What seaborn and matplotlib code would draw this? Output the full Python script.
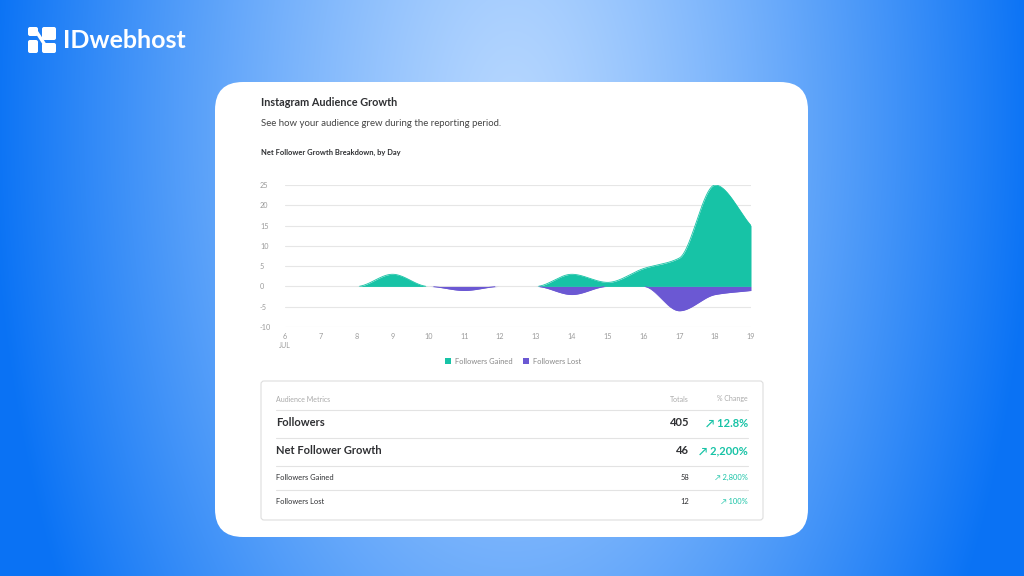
import numpy as np
import pandas as pd
import seaborn as sns
import matplotlib.pyplot as plt
from matplotlib.patches import FancyBboxPatch, Patch, Polygon

# Daily follower data (July 6 - 19)
days = [6, 7, 8, 9, 10, 11, 12, 13, 14, 15, 16, 17, 18, 19]
followers_gained = [0, 0, 0, 3, 0, 0, 0, 0, 3, 1, 4.4, 7, 25, 15]
followers_lost = [0, 0, 0, 0, 0, -1, 0, 0, -2, 0, 0, -6, -2, -1]
y_ticks = [-10, -5, 0, 5, 10, 15, 20, 25]

# Audience metrics table
metric_names = ["Followers", "Net Follower Growth", "Followers Gained", "Followers Lost"]
metric_totals = ["405", "46", "58", "12"]
metric_changes = ["12.8%", "2,200%", "2,800%", "100%"]

TEAL = "#17c3a6"
PURPLE = "#6b58d3"
DARK = "#2f3033"
GRAY = "#9a9a9a"
FONT = ["Lato", "DejaVu Sans"]


def pchip(x, y, xs):
    # monotone cubic curve, only used for the smooth look of the area edges
    x = np.asarray(x, float)
    y = np.asarray(y, float)
    h = np.diff(x)
    delta = np.diff(y) / h
    n = len(x)
    d = np.zeros(n)
    for k in range(1, n - 1):
        if delta[k - 1] * delta[k] > 0:
            w1 = 2 * h[k] + h[k - 1]
            w2 = h[k] + 2 * h[k - 1]
            d[k] = (w1 + w2) / (w1 / delta[k - 1] + w2 / delta[k])
    d[0] = delta[0]
    d[-1] = delta[-1]
    idx = np.clip(np.searchsorted(x, xs) - 1, 0, n - 2)
    t = (xs - x[idx]) / h[idx]
    h00 = 2 * t**3 - 3 * t**2 + 1
    h10 = t**3 - 2 * t**2 + t
    h01 = -2 * t**3 + 3 * t**2
    h11 = t**3 - t**2
    return h00 * y[idx] + h10 * h[idx] * d[idx] + h01 * y[idx + 1] + h11 * h[idx] * d[idx + 1]


sns.set_theme(style="white")
plt.rcParams["font.family"] = FONT

fig = plt.figure(figsize=(10.24, 5.76), dpi=100)

# background with gradient, card and texts in pixel coordinates
bg = fig.add_axes([0, 0, 1, 1])
bg.set_xlim(0, 1024)
bg.set_ylim(576, 0)
bg.axis("off")

gx, gy = np.meshgrid(np.arange(1024), np.arange(576))
r = np.sqrt((gx - 512) ** 2 + ((gy - 120) * 0.55) ** 2)
t = np.clip(r / 520, 0, 1) ** 1.25
light = np.array([0.71, 0.84, 1.0])
dark = np.array([0.04, 0.45, 0.96])
img = light[None, None, :] * (1 - t[..., None]) + dark[None, None, :] * t[..., None]
bg.imshow(img, extent=(0, 1024, 576, 0), aspect="auto", zorder=0)

# logo
for (x0, y0, w, h) in [(28, 27, 10, 9), (42, 27, 14, 13), (28, 40, 10, 13), (42, 43, 14, 10)]:
    bg.add_patch(FancyBboxPatch((x0, y0), w, h, boxstyle="round,pad=0,rounding_size=2",
                                fc="white", ec="none", zorder=2))
bg.add_patch(Polygon([(34, 31), (38, 31), (47, 45), (43, 45)], closed=True, fc="white", ec="none", zorder=2))
bg.text(63, 41, "IDwebhost", color="white", fontsize=18, fontweight="bold", va="center", ha="left", zorder=2)

# white card
bg.add_patch(FancyBboxPatch((215, 82), 593, 455, boxstyle="round,pad=0,rounding_size=28",
                            fc="white", ec="none", zorder=1))

bg.text(261, 103, "Instagram Audience Growth", fontsize=7.8, fontweight="bold", color=DARK, va="center", zorder=3)
bg.text(261, 124, "See how your audience grew during the reporting period.", fontsize=6.9,
        color="#444444", va="center", zorder=3)
bg.text(261, 152, "Net Follower Growth Breakdown, by Day", fontsize=5.4, fontweight="bold",
        color=DARK, va="center", zorder=3)
bg.text(279, 345, "JUL", fontsize=5, color=GRAY, va="center", zorder=3)

# metrics table
bg.add_patch(FancyBboxPatch((261, 381), 502, 139, boxstyle="round,pad=0,rounding_size=3",
                            fc="white", ec="#dedede", lw=0.8, zorder=2))
bg.text(276, 399, "Audience Metrics", fontsize=5, color="#aaaaaa", va="center", zorder=3)
bg.text(689, 399, "Totals", fontsize=5, color="#aaaaaa", va="center", ha="right", zorder=3)
bg.text(748, 399, "% Change", fontsize=5, color="#aaaaaa", va="center", ha="right", zorder=3)
for yl in [410, 438, 466, 490]:
    bg.plot([276, 748], [yl, yl], color="#e3e3e3", lw=0.8, zorder=3)
row_y = [423, 451, 477, 501]
for i, (name, tot, chg) in enumerate(zip(metric_names, metric_totals, metric_changes)):
    big = i < 2
    fs = 8 if big else 5.4
    fw = "bold" if big else "normal"
    bg.text(276, row_y[i], name, fontsize=fs, fontweight=fw, color=DARK, va="center", zorder=3)
    bg.text(689, row_y[i], tot, fontsize=fs, fontweight=fw, color=DARK, va="center", ha="right", zorder=3)
    bg.text(748, row_y[i], "\u2197 " + chg, fontsize=fs, fontweight=fw, color=TEAL,
            va="center", ha="right", zorder=3, family=FONT)

# chart
ax = fig.add_axes([285 / 1024, 1 - 327 / 576, 466 / 1024, 142 / 576])
ax.set_facecolor("none")
xs = np.linspace(days[0], days[-1], 800)
gain_s = np.maximum(pchip(days, followers_gained, xs), 0)
lost_s = np.minimum(pchip(days, followers_lost, xs), 0)

ax.fill_between(xs, 0, gain_s, color=TEAL, lw=0, zorder=3)
ax.fill_between(xs, 0, lost_s, color=PURPLE, lw=0, zorder=3)

# soft edge lines only where the area is non-zero, so the zero grid line stays grey
for vals, col in [(gain_s, TEAL), (lost_s, PURPLE)]:
    nz = np.abs(vals) > 0.05
    seg = np.cumsum(np.r_[True, nz[1:] != nz[:-1]])
    edge = pd.DataFrame({"day": xs, "v": vals, "seg": seg})[nz]
    sns.lineplot(data=edge, x="day", y="v", units="seg", estimator=None,
                 color=col, lw=0.6, ax=ax, zorder=3)

ax.set_xlim(days[0], days[-1])
ax.set_ylim(-10, 25)
ax.set_xticks(days)
ax.set_yticks(y_ticks)
ax.set_xticklabels([str(d) for d in days])
ax.set_yticklabels([str(v) for v in y_ticks])
ax.set_xlabel("")
ax.set_ylabel("")
ax.yaxis.grid(True, color="#e6e6e6", lw=0.8, zorder=0)
ax.xaxis.grid(False)
for s in ax.spines.values():
    s.set_visible(False)
ax.tick_params(axis="both", length=0, labelsize=5.2, labelcolor=GRAY)
ax.tick_params(axis="y", pad=18)
ax.tick_params(axis="x", pad=4)
for lab in ax.get_yticklabels():
    lab.set_ha("left")

handles = [Patch(fc=TEAL, ec="none", label="Followers Gained"),
           Patch(fc=PURPLE, ec="none", label="Followers Lost")]
fig.legend(handles=handles, loc="center", bbox_to_anchor=(513 / 1024, 1 - 361 / 576), ncol=2,
           frameon=False, fontsize=5.4, labelcolor="#888888", handlelength=0.8, handleheight=0.8,
           handletextpad=0.5, columnspacing=1.4)

fig.savefig("out.png", dpi=100)
